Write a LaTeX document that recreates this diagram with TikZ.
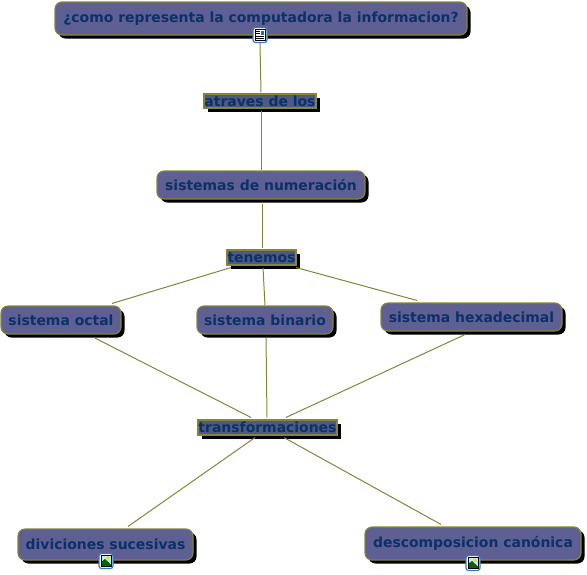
\documentclass[tikz,border=0pt]{standalone}
\usepackage{fontspec}
\setmainfont{DejaVu Sans}
\usetikzlibrary{shadows}
\definecolor{boxfill}{HTML}{5E5F92}
\definecolor{labfill}{HTML}{4F5A80}
\definecolor{edge}{HTML}{85853A}
\definecolor{ink}{HTML}{0C3068}
\definecolor{iconblue}{HTML}{3A78C8}
\tikzset{
  base/.style={draw=edge,line width=1.1pt,text=ink,font=\bfseries\fontsize{13.95}{15}\selectfont,inner sep=0pt,anchor=center},
  concept/.style={base,fill=boxfill,rounded corners=7pt,drop shadow={shadow xshift=3.5pt,shadow yshift=-3.5pt,fill=black,opacity=1}},
  linker/.style={base,fill=labfill,drop shadow={shadow xshift=4pt,shadow yshift=-4pt,fill=black,opacity=1}},
  conn/.style={draw=edge,line width=1pt},
  iconbox/.style={draw=iconblue,fill=white,line width=1.2pt,rounded corners=2.5pt,minimum width=14pt,minimum height=15pt,inner sep=0pt}
}
\newcommand{\imgglyph}[1]{%
  \fill[cyan!25] ([shift={(-5,-5.5)}]#1.center) rectangle ([shift={(5,5.5)}]#1.center);
  \fill[green!40!black] ([shift={(-5,5.5)}]#1.center) -- ([shift={(-5,1)}]#1.center) -- ([shift={(-1,-2)}]#1.center) -- ([shift={(5,3.5)}]#1.center) -- ([shift={(5,5.5)}]#1.center) -- cycle;
  \fill[yellow!70!orange] ([shift={(2,-3)}]#1.center) circle (1.8pt);
  \draw[black,line width=0.5pt] ([shift={(-5,-5.5)}]#1.center) rectangle ([shift={(5,5.5)}]#1.center);
}
\begin{document}
\begin{tikzpicture}[x=1pt,y=-1pt]
\useasboundingbox (0,0) rectangle (587,574);
\node[concept,minimum width=412pt,minimum height=33pt] (root) at (261,18.5) {\raisebox{3.5pt}{¿como representa la computadora la informacion?}};
\node[linker,minimum width=112pt,minimum height=14pt] (atraves) at (260,101) {\raisebox{-0.5pt}{atraves de los}};
\node[concept,minimum width=208pt,minimum height=28pt] (sistemas) at (261,185) {sistemas de numeración};
\node[linker,minimum width=69pt,minimum height=15pt] (tenemos) at (261.5,257.5) {tenemos};
\node[concept,minimum width=120pt,minimum height=28pt] (octal) at (61,320) {sistema octal};
\node[concept,minimum width=136pt,minimum height=28pt] (binario) at (265,320) {sistema binario};
\node[concept,minimum width=181pt,minimum height=28pt] (hexa) at (471.5,317) {sistema hexadecimal};
\node[linker,minimum width=139pt,minimum height=15pt] (transf) at (267.5,427.5) {transformaciones};
\node[concept,minimum width=175pt,minimum height=31pt] (divis) at (105.5,544.5) {\raisebox{1pt}{diviciones sucesivas}};
\node[concept,minimum width=216pt,minimum height=33pt] (desc) at (473,543.5) {\raisebox{1pt}{descomposicion canónica}};
\node[iconbox] (rooticon) at (260,35) {};
\node[iconbox] (divicon) at (106,561) {};
\node[iconbox] (descicon) at (473,563) {};
\draw[black,line width=0.7pt] ([shift={(-5,-5.5)}]rooticon.center) rectangle ([shift={(5,5.5)}]rooticon.center);
\draw[black,line width=0.7pt] ([shift={(-4,-3.5)}]rooticon.center) -- ([shift={(0,-3.5)}]rooticon.center);
\draw[black,line width=0.7pt] ([shift={(-4,-1.5)}]rooticon.center) -- ([shift={(0,-1.5)}]rooticon.center);
\draw[black,line width=0.7pt] ([shift={(-4,1)}]rooticon.center) -- ([shift={(4,1)}]rooticon.center);
\draw[black,line width=0.7pt] ([shift={(-4,3)}]rooticon.center) -- ([shift={(4,3)}]rooticon.center);
\fill[cyan!50!blue] ([shift={(1,-4.5)}]rooticon.center) rectangle ([shift={(4,-0.5)}]rooticon.center);
\imgglyph{divicon}
\imgglyph{descicon}
\draw[conn] (rooticon.south) -- ([shift={(1,-1)}]atraves.north);
\draw[conn] ([shift={(1,2)}]atraves.south) -- (sistemas.north);
\draw[conn] ([shift={(1,4)}]sistemas.south) -- ([shift={(0.5,-1)}]tenemos.north);
\draw[conn] ([shift={(-30.5,2)}]tenemos.south) -- ([shift={(51,-2)}]octal.north);
\draw[conn] ([shift={(1.5,2)}]tenemos.south) -- (binario.north);
\draw[conn] ([shift={(34.5,2)}]tenemos.south) -- ([shift={(-54.5,-2)}]hexa.north);
\draw[conn] ([shift={(33,3)}]octal.south) -- ([shift={(-16.5,-2)}]transf.north);
\draw[conn] ([shift={(1,3)}]binario.south) -- ([shift={(-0.5,-2)}]transf.north);
\draw[conn] ([shift={(-6.5,3)}]hexa.south) -- ([shift={(18.5,-2)}]transf.north);
\draw[conn] ([shift={(-12.5,2)}]transf.south) -- ([shift={(22.5,-2)}]divis.north);
\draw[conn] ([shift={(16.5,2)}]transf.south) -- ([shift={(-32,-2)}]desc.north);
\end{tikzpicture}
\end{document}
